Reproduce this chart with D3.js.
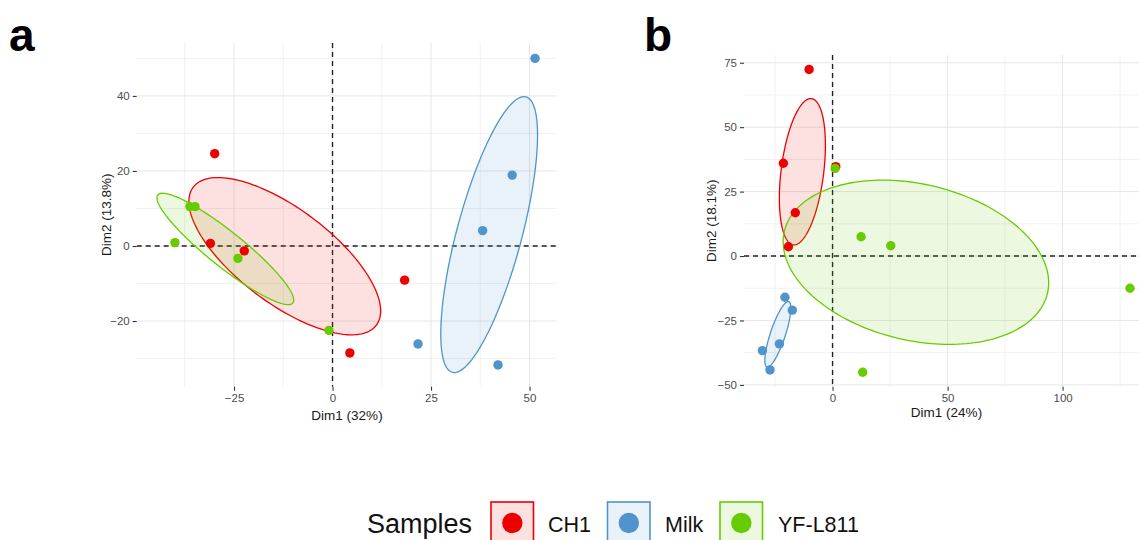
<!DOCTYPE html>
<html>
<head>
<meta charset="utf-8">
<script src="https://cdn.jsdelivr.net/npm/d3@7"></script>
<style>
  html, body { margin: 0; padding: 0; background: #fff; }
  svg { display: block; font-family: "Liberation Sans", Arial, sans-serif; }
</style>
</head>
<body>
<svg id="chart" width="1139" height="540"></svg>
<script>
// Sample groups
const groups = ["CH1", "Milk", "YF-L811"];

// Panel a: individual coordinates on Dim1 / Dim2
const aCH1X  = [-29.9, -31.0, -22.4, 4.4, 18.3];
const aCH1Y  = [24.6, 0.7, -1.3, -28.5, -9.1];
const aMilkX = [51.4, 45.6, 38.1, 21.7, 42.0];
const aMilkY = [50.0, 18.9, 4.1, -26.1, -31.7];
const aYFX   = [-40.0, -36.2, -34.9, -24.0, -0.9];
const aYFY   = [0.9, 10.5, 10.5, -3.3, -22.5];

// Panel b: individual coordinates on Dim1 / Dim2
const bCH1X  = [-10.2, -21.4, -16.2, 1.4, -19.2];
const bCH1Y  = [72.4, 36.0, 16.8, 34.7, 3.6];
const bMilkX = [-20.7, -17.5, -23.1, -30.5, -27.2];
const bMilkY = [-16.0, -21.0, -34.1, -36.7, -44.2];
const bYFX   = [1.1, 12.4, 25.3, 13.1, 129.3];
const bYFY   = [34.0, 7.5, 4.0, -45.1, -12.5];

// Axis ticks and titles
const aXTicks = [-25, 0, 25, 50];
const aYTicks = [-20, 0, 20, 40];
const bXTicks = [0, 50, 100];
const bYTicks = [-50, -25, 0, 25, 50, 75];
const aXTitle = "Dim1 (32%)", aYTitle = "Dim2 (13.8%)";
const bXTitle = "Dim1 (24%)", bYTitle = "Dim2 (18.1%)";

const colors = { "CH1": "#EE0000", "Milk": "#4F94CD", "YF-L811": "#66CC00" };
const CHI2_95 = 5.991464547; // chi-square quantile, 2 df, level 0.95

const svg = d3.select("#chart");

function groupRows(xs, ys) {
  return xs.map((x, i) => ({ x, y: ys[i] }));
}

// Confidence ellipse around the group barycentre
function confidenceEllipse(pts) {
  const n = pts.length;
  const mx = d3.mean(pts, d => d.x), my = d3.mean(pts, d => d.y);
  let sxx = 0, syy = 0, sxy = 0;
  pts.forEach(p => {
    sxx += (p.x - mx) ** 2; syy += (p.y - my) ** 2; sxy += (p.x - mx) * (p.y - my);
  });
  sxx /= (n - 1); syy /= (n - 1); sxy /= (n - 1);
  const tr = sxx + syy, det = sxx * syy - sxy * sxy;
  const disc = Math.sqrt(tr * tr / 4 - det);
  const l1 = tr / 2 + disc, l2 = tr / 2 - disc;
  let vx = sxy, vy = l1 - sxx;
  if (Math.abs(vx) < 1e-12 && Math.abs(vy) < 1e-12) { vx = 1; vy = 0; }
  const vn = Math.hypot(vx, vy); vx /= vn; vy /= vn;
  const r1 = Math.sqrt(CHI2_95 * l1 / n), r2 = Math.sqrt(CHI2_95 * Math.max(l2, 0) / n);
  const out = [];
  for (let k = 0; k <= 180; k++) {
    const t = 2 * Math.PI * k / 180;
    const a = r1 * Math.cos(t), b = r2 * Math.sin(t);
    out.push({ x: mx + a * vx - b * vy, y: my + a * vy + b * vx });
  }
  return out;
}

function drawPanel(cfg) {
  const { left, right, top, bottom, xDomain, yDomain, xTicks, yTicks, data, xTitle, yTitle } = cfg;
  const x = d3.scaleLinear().domain(xDomain).range([left, right]);
  const y = d3.scaleLinear().domain(yDomain).range([bottom, top]);
  const g = svg.append("g");

  const clipId = "clip" + Math.round(left);
  g.append("clipPath").attr("id", clipId).append("rect")
    .attr("x", left).attr("y", top).attr("width", right - left).attr("height", bottom - top);

  // minor grid at midpoints between ticks
  const xStep = xTicks[1] - xTicks[0], yStep = yTicks[1] - yTicks[0];
  const xMinor = d3.range(Math.ceil((xDomain[0] - xStep / 2) / xStep) * xStep + xStep / 2, xDomain[1], xStep)
    .filter(v => v > xDomain[0]);
  const yMinor = d3.range(Math.ceil((yDomain[0] - yStep / 2) / yStep) * yStep + yStep / 2, yDomain[1], yStep)
    .filter(v => v > yDomain[0]);

  const grid = g.append("g");
  grid.selectAll(".vmin").data(xMinor).join("line")
    .attr("x1", d => x(d)).attr("x2", d => x(d)).attr("y1", top).attr("y2", bottom)
    .attr("stroke", "#f1f1f1").attr("stroke-width", 1);
  grid.selectAll(".hmin").data(yMinor).join("line")
    .attr("y1", d => y(d)).attr("y2", d => y(d)).attr("x1", left).attr("x2", right)
    .attr("stroke", "#f1f1f1").attr("stroke-width", 1);
  grid.selectAll(".vmaj").data(xTicks).join("line")
    .attr("x1", d => x(d)).attr("x2", d => x(d)).attr("y1", top).attr("y2", bottom)
    .attr("stroke", "#e6e6e6").attr("stroke-width", 1);
  grid.selectAll(".hmaj").data(yTicks).join("line")
    .attr("y1", d => y(d)).attr("y2", d => y(d)).attr("x1", left).attr("x2", right)
    .attr("stroke", "#e6e6e6").attr("stroke-width", 1);

  // axes: short ticks and grey labels
  const xAxis = d3.axisBottom(x).tickValues(xTicks).tickSize(4).tickPadding(3);
  const yAxis = d3.axisLeft(y).tickValues(yTicks).tickSize(4).tickPadding(3);
  const gx = g.append("g").attr("transform", `translate(0,${bottom})`).call(xAxis);
  const gy = g.append("g").attr("transform", `translate(${left},0)`).call(yAxis);
  [gx, gy].forEach(ax => {
    ax.select(".domain").remove();
    ax.selectAll(".tick line").attr("stroke", "#333").attr("stroke-width", 1.1);
    ax.selectAll(".tick text").attr("fill", "#4d4d4d").attr("font-size", 11.5)
      .attr("font-family", "'Liberation Sans', Arial, sans-serif");
  });

  const body = g.append("g").attr("clip-path", `url(#${clipId})`);

  // reference lines at the origin
  body.append("line").attr("x1", left).attr("x2", right).attr("y1", y(0)).attr("y2", y(0))
    .attr("stroke", "#222").attr("stroke-width", 1.4).attr("stroke-dasharray", "5,4");
  body.append("line").attr("x1", x(0)).attr("x2", x(0)).attr("y1", top).attr("y2", bottom)
    .attr("stroke", "#222").attr("stroke-width", 1.4).attr("stroke-dasharray", "5,4");

  const line = d3.line().x(d => x(d.x)).y(d => y(d.y)).curve(d3.curveLinearClosed);

  // group ellipses
  groups.forEach(gr => {
    body.append("path").datum(confidenceEllipse(data[gr]))
      .attr("d", line)
      .attr("fill", colors[gr]).attr("fill-opacity", 0.12)
      .attr("stroke", colors[gr]).attr("stroke-width", 1.3);
  });

  // individuals
  groups.forEach(gr => {
    body.selectAll(null).data(data[gr]).join("circle")
      .attr("cx", d => x(d.x)).attr("cy", d => y(d.y)).attr("r", 4.7)
      .attr("fill", colors[gr]);
  });

  // axis titles
  g.append("text").attr("x", cfg.xTitleX).attr("y", cfg.xTitleY)
    .attr("text-anchor", "middle").attr("font-size", 13.5).attr("fill", "#1a1a1a").text(xTitle);
  g.append("text").attr("transform", `translate(${cfg.yTitleX},${(top + bottom) / 2}) rotate(-90)`)
    .attr("text-anchor", "middle").attr("font-size", 13.5).attr("fill", "#1a1a1a").text(yTitle);
}

drawPanel({
  left: 136.7, right: 556.7, top: 43, bottom: 386.7,
  xDomain: [-49.7, 56.9], yDomain: [-37.5, 54.1],
  xTicks: aXTicks, yTicks: aYTicks,
  data: { "CH1": groupRows(aCH1X, aCH1Y), "Milk": groupRows(aMilkX, aMilkY), "YF-L811": groupRows(aYFX, aYFY) },
  xTitle: aXTitle, yTitle: aYTitle, xTitleX: 347, xTitleY: 420, yTitleX: 111
});

drawPanel({
  left: 744, right: 1150, top: 55, bottom: 386.7,
  xDomain: [-38.5, 138.0], yDomain: [-50.7, 78.0],
  xTicks: bXTicks, yTicks: bYTicks,
  data: { "CH1": groupRows(bCH1X, bCH1Y), "Milk": groupRows(bMilkX, bMilkY), "YF-L811": groupRows(bYFX, bYFY) },
  xTitle: bXTitle, yTitle: bYTitle, xTitleX: 946.5, xTitleY: 417, yTitleX: 716
});

// panel letters
svg.append("text").attr("x", 9).attr("y", 51).attr("font-size", 46).attr("font-weight", "bold")
  .attr("fill", "#000").text("a");
svg.append("text").attr("x", 644).attr("y", 51).attr("font-size", 46).attr("font-weight", "bold")
  .attr("fill", "#000").text("b");

// legend
const legend = svg.append("g");
legend.append("text").attr("x", 367).attr("y", 533).attr("font-size", 27).attr("fill", "#111").text("Samples");
const keyX = [491, 607.5, 720];
const labelX = [548, 665, 778];
groups.forEach((gr, i) => {
  legend.append("rect").attr("x", keyX[i]).attr("y", 502).attr("width", 42.5).attr("height", 42.5)
    .attr("fill", colors[gr]).attr("fill-opacity", 0.12)
    .attr("stroke", colors[gr]).attr("stroke-width", 1.6);
  legend.append("circle").attr("cx", keyX[i] + 21.3).attr("cy", 523).attr("r", 10.2).attr("fill", colors[gr]);
  legend.append("text").attr("x", labelX[i]).attr("y", 531.5).attr("font-size", 21.5).attr("fill", "#111").text(gr);
});
</script>
</body>
</html>
